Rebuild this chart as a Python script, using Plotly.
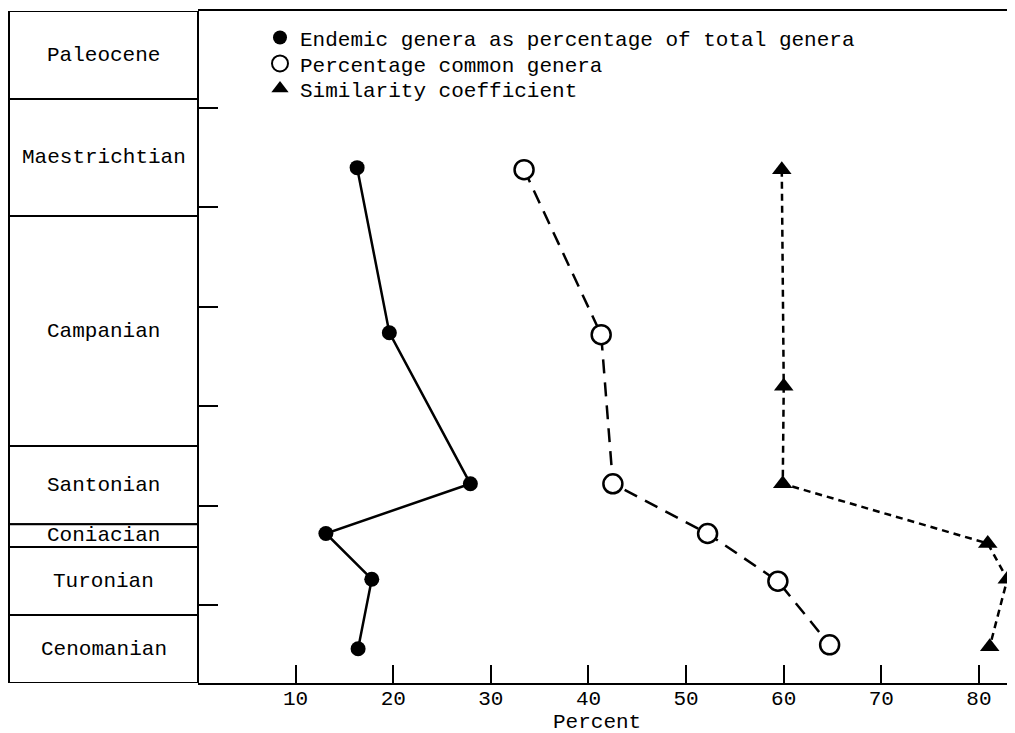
"""Cretaceous stage faunal statistics: endemism, common genera, similarity."""

import plotly.graph_objects as go

# page body has an 8px margin, so the figure is drawn 8px smaller each way
W, H = 1007, 725
FONT = "Liberation Mono"
FS = 21

# Stage column (ages in Ma, old time scale), top to bottom
stages = ["Paleocene", "Maestrichtian", "Campanian", "Santonian",
          "Coniacian", "Turonian", "Cenomanian"]
stage_bounds = [60.12, 64.55, 70.43, 82.0, 85.93, 87.08, 90.5, 93.92]

# Series (age in Ma, percent)
endemic_age = [68.0, 76.3, 83.9, 86.4, 88.7, 92.2]
endemic_pct = [16.3, 19.6, 27.9, 13.1, 17.8, 16.4]

common_age = [68.1, 76.4, 83.9, 86.4, 88.8, 92.0]
common_pct = [33.4, 41.3, 42.5, 52.2, 59.4, 64.7]

simil_age = [68.1, 79.0, 83.9, 86.9, 88.7, 92.1]
simil_pct = [59.8, 60.0, 59.9, 80.9, 82.9, 81.1]

x_ticks = [10, 20, 30, 40, 50, 60, 70, 80]
age_ticks = [65, 70, 75, 80, 85, 90]

col_left = 1 / W
col_right = 190 / W

fig = go.Figure()

# data lines (no legend)
fig.add_trace(go.Scatter(
    x=endemic_pct, y=endemic_age, mode="lines+markers", showlegend=False,
    line=dict(color="black", width=2.5),
    marker=dict(symbol="circle", size=15, color="black"),
))
fig.add_trace(go.Scatter(
    x=common_pct, y=common_age, mode="lines+markers", showlegend=False,
    line=dict(color="black", width=2.5, dash="14px,9px"),
    marker=dict(symbol="circle", size=19, color="white",
                line=dict(color="black", width=2.5)),
))
fig.add_trace(go.Scatter(
    x=simil_pct, y=simil_age, mode="lines+markers", showlegend=False,
    cliponaxis=False,
    line=dict(color="black", width=2.5, dash="7px,5px"),
    marker=dict(symbol="triangle-up", size=17, color="black"),
))

# legend entries: markers only, one legend per row
legend_items = [
    ("Endemic genera as percentage of total genera",
     dict(symbol="circle", size=14, color="black")),
    ("Percentage common genera",
     dict(symbol="circle", size=20, color="white",
          line=dict(color="black", width=2))),
    ("Similarity coefficient",
     dict(symbol="triangle-up", size=15, color="black")),
]
legend_rows = [0.960, 0.9214, 0.884]
legend_ids = ["legend", "legend2", "legend3"]
for (name, mk), lid in zip(legend_items, legend_ids):
    fig.add_trace(go.Scatter(x=[None], y=[None], mode="markers",
                             name=name, marker=mk, legend=lid))

# stage column boxes and labels
for i, name in enumerate(stages):
    top, bot = stage_bounds[i], stage_bounds[i + 1]
    fig.add_shape(type="rect", xref="paper", yref="y",
                  x0=col_left, x1=col_right, y0=top, y1=bot,
                  line=dict(color="black", width=2), fillcolor="white",
                  layer="below")
    fig.add_annotation(x=(col_left + col_right) / 2, xref="paper",
                       xanchor="center", yanchor="middle",
                       y=(top + bot) / 2, yref="y", text=name,
                       showarrow=False,
                       font=dict(family=FONT, size=FS, color="black"))

fig.add_annotation(x=589 / W, xref="paper", y=-0.0595, yref="paper",
                   xanchor="center", yanchor="middle", text="Percent",
                   showarrow=False,
                   font=dict(family=FONT, size=FS, color="black"))

fig.update_xaxes(
    domain=[col_right, 1], range=[0, 83.69],
    showline=True, linecolor="black", linewidth=2, mirror=True,
    ticks="inside", ticklen=18, tickwidth=2, tickcolor="black",
    tickvals=x_ticks, showgrid=False, zeroline=False,
    ticklabelstandoff=-5,
    tickfont=dict(family=FONT, size=FS, color="black"),
)
# the stage column's right edge serves as the y axis line
fig.update_yaxes(
    range=[stage_bounds[-1], stage_bounds[0]],
    showline=False,
    ticks="inside", ticklen=20, tickwidth=2, tickcolor="black",
    tickvals=age_ticks, showticklabels=False, showgrid=False, zeroline=False,
)

legend_common = dict(xanchor="left", yanchor="middle", x=252 / W,
                     bgcolor="rgba(0,0,0,0)",
                     font=dict(family=FONT, size=FS, color="black"))
fig.update_layout(
    width=W, height=H,
    margin=dict(l=0, r=0, t=3, b=50),
    paper_bgcolor="white", plot_bgcolor="white",
    legend=dict(y=legend_rows[0], **legend_common),
    legend2=dict(y=legend_rows[1], **legend_common),
    legend3=dict(y=legend_rows[2], **legend_common),
)

fig.write_html("out.html")
